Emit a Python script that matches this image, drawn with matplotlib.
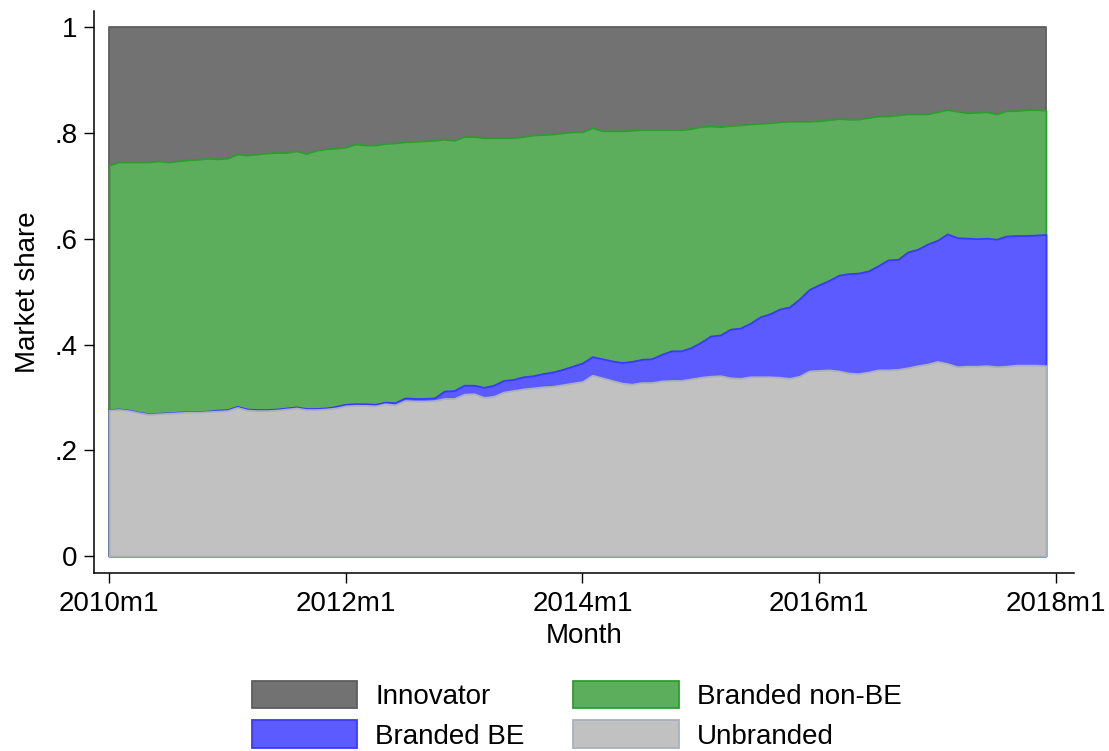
import numpy as np
import matplotlib.pyplot as plt

plt.rcParams['font.family'] = ['Liberation Sans', 'DejaVu Sans']

# monthly market shares, 2010m1 .. 2017m12
years = list(range(2010, 2018))
months = [f"{y}m{m}" for y in years for m in range(1, 13)]

unbranded = [0.276, 0.277, 0.275, 0.271, 0.268, 0.269, 0.270, 0.271, 0.272, 0.272,
             0.273, 0.274, 0.275, 0.281, 0.276, 0.275, 0.275, 0.276, 0.278, 0.280,
             0.277, 0.277, 0.278, 0.280, 0.284, 0.285, 0.285, 0.284, 0.288, 0.286,
             0.294, 0.293, 0.293, 0.294, 0.298, 0.298, 0.306, 0.307, 0.300, 0.302,
             0.310, 0.313, 0.316, 0.318, 0.320, 0.321, 0.324, 0.327, 0.330, 0.342,
             0.337, 0.332, 0.327, 0.325, 0.328, 0.328, 0.331, 0.332, 0.332, 0.335,
             0.338, 0.340, 0.341, 0.337, 0.336, 0.339, 0.339, 0.339, 0.338, 0.336,
             0.340, 0.350, 0.351, 0.352, 0.350, 0.346, 0.345, 0.348, 0.352, 0.352,
             0.353, 0.356, 0.360, 0.363, 0.368, 0.364, 0.358, 0.359, 0.359, 0.360,
             0.358, 0.359, 0.361, 0.361, 0.361, 0.360]

branded_be = [0.001, 0.001, 0.001, 0.001, 0.001, 0.001, 0.001, 0.001, 0.001, 0.001,
              0.001, 0.002, 0.002, 0.002, 0.002, 0.002, 0.002, 0.002, 0.002, 0.002,
              0.002, 0.002, 0.002, 0.003, 0.003, 0.003, 0.003, 0.003, 0.003, 0.004,
              0.005, 0.005, 0.005, 0.005, 0.014, 0.015, 0.017, 0.016, 0.019, 0.021,
              0.022, 0.021, 0.023, 0.023, 0.025, 0.027, 0.029, 0.032, 0.035, 0.035,
              0.036, 0.037, 0.039, 0.043, 0.044, 0.045, 0.050, 0.056, 0.056, 0.059,
              0.066, 0.076, 0.077, 0.092, 0.095, 0.101, 0.113, 0.119, 0.129, 0.135,
              0.146, 0.154, 0.162, 0.169, 0.181, 0.188, 0.190, 0.191, 0.197, 0.208,
              0.208, 0.219, 0.220, 0.227, 0.229, 0.245, 0.244, 0.242, 0.241, 0.241,
              0.241, 0.246, 0.245, 0.245, 0.246, 0.248]

branded_non_be = [0.462, 0.467, 0.469, 0.473, 0.476, 0.477, 0.474, 0.475, 0.476, 0.477,
                  0.478, 0.475, 0.475, 0.477, 0.480, 0.483, 0.485, 0.485, 0.483, 0.484,
                  0.482, 0.488, 0.490, 0.488, 0.486, 0.491, 0.489, 0.490, 0.489, 0.491,
                  0.484, 0.486, 0.487, 0.487, 0.476, 0.473, 0.470, 0.470, 0.472, 0.468,
                  0.459, 0.457, 0.454, 0.455, 0.452, 0.450, 0.447, 0.443, 0.437, 0.433,
                  0.431, 0.435, 0.438, 0.437, 0.434, 0.433, 0.425, 0.418, 0.418, 0.414,
                  0.408, 0.397, 0.394, 0.385, 0.384, 0.377, 0.366, 0.361, 0.354, 0.351,
                  0.336, 0.318, 0.310, 0.304, 0.296, 0.292, 0.291, 0.290, 0.283, 0.272,
                  0.273, 0.261, 0.256, 0.246, 0.243, 0.235, 0.239, 0.237, 0.239, 0.239,
                  0.237, 0.237, 0.236, 0.238, 0.237, 0.235]

innovator = [0.261, 0.255, 0.255, 0.255, 0.255, 0.253, 0.255, 0.253, 0.251, 0.250,
             0.248, 0.249, 0.248, 0.240, 0.242, 0.240, 0.238, 0.237, 0.237, 0.234,
             0.239, 0.233, 0.230, 0.229, 0.227, 0.221, 0.223, 0.223, 0.220, 0.219,
             0.217, 0.216, 0.215, 0.214, 0.212, 0.214, 0.207, 0.207, 0.209, 0.209,
             0.209, 0.209, 0.207, 0.204, 0.203, 0.202, 0.200, 0.198, 0.198, 0.190,
             0.196, 0.196, 0.196, 0.195, 0.194, 0.194, 0.194, 0.194, 0.194, 0.192,
             0.188, 0.187, 0.188, 0.186, 0.185, 0.183, 0.182, 0.181, 0.179, 0.178,
             0.178, 0.178, 0.177, 0.175, 0.173, 0.174, 0.174, 0.171, 0.168, 0.168,
             0.166, 0.164, 0.164, 0.164, 0.160, 0.156, 0.159, 0.162, 0.161, 0.160,
             0.164, 0.158, 0.158, 0.156, 0.156, 0.157]

xtick_pos = [0, 24, 48, 72, 96]
xtick_labels = ['2010m1', '2012m1', '2014m1', '2016m1', '2018m1']
ytick_pos = [0, 0.2, 0.4, 0.6, 0.8, 1]
ytick_labels = ['0', '.2', '.4', '.6', '.8', '1']

x = np.arange(len(months))
shares = np.array([unbranded, branded_be, branded_non_be, innovator])
cum = np.cumsum(shares, axis=0)

fig = plt.figure(figsize=(11.09, 7.51), dpi=100)
ax = fig.add_axes([0.085, 0.237, 0.883, 0.748])

# drawn back to front like stata overlays: each area from 0 up to its cumulative level
styles = [('Innovator', '#727272', '#5e5e5e', 3),
          ('Branded non-BE', '#5cae5c', '#2f9c2f', 2),
          ('Branded BE', '#5b5bff', '#3a3aff', 1),
          ('Unbranded', '#c1c1c1', '#aab0bc', 0)]
handles = {}
for name, fc, ec, k in styles:
    h = ax.fill_between(x, 0, cum[k], facecolor=fc, edgecolor=ec, linewidth=1.3, label=name)
    handles[name] = h

ax.set_xlim(-1.5, 97.8)
ax.set_ylim(-0.032, 1.03)
ax.set_xticks(xtick_pos)
ax.set_xticklabels(xtick_labels)
ax.set_yticks(ytick_pos)
ax.set_yticklabels(ytick_labels)
ax.tick_params(axis='both', labelsize=20, length=7, width=1.0, direction='out', color='black')
ax.tick_params(axis='x', pad=6)
ax.tick_params(axis='y', pad=5)
for s in ['top', 'right']:
    ax.spines[s].set_visible(False)
for s in ['left', 'bottom']:
    ax.spines[s].set_linewidth(1.1)

ax.set_xlabel('Month', fontsize=20, labelpad=4)
ax.set_ylabel('Market share', fontsize=20, labelpad=10)

order = ['Innovator', 'Branded BE', 'Branded non-BE', 'Unbranded']
leg = fig.legend([handles[n] for n in order], order, loc='upper center',
                 bbox_to_anchor=(0.52, 1 - 664 / 751), bbox_transform=fig.transFigure,
                 ncol=2, frameon=False, fontsize=20, handlelength=3.8, handleheight=1.15,
                 handletextpad=0.65, columnspacing=1.75, labelspacing=0.38, borderpad=0.1)

fig.savefig('out.png', dpi=100, facecolor='white')
